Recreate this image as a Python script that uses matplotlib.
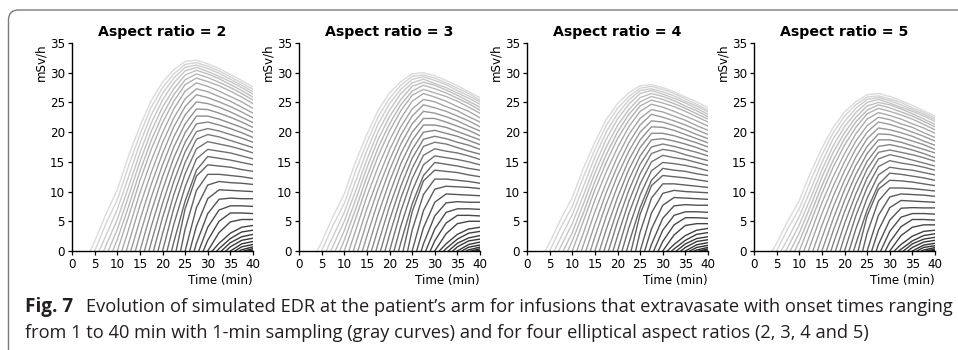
import numpy as np
import matplotlib.pyplot as plt
from matplotlib.patches import FancyBboxPatch

# sampling grid (min) and the time each curve leaves zero (onset + ~3 min)
sample_times = [5, 7.5, 10, 12.5, 15, 17.5, 20, 22.5, 25, 27.5, 30, 32.5, 35, 37.5, 40]
onset = list(range(1, 37))  # onsets 37-40 start after the 40 min window
rise_start = [4, 5, 6, 7, 8, 9, 10, 11, 12, 13, 14, 15, 16, 17, 18, 19, 20, 21,
              22, 23, 24, 25, 26, 27, 28, 29, 30, 31, 32, 33, 34, 35, 36, 37, 38, 39]
aspect_ratios = [2, 3, 4, 5]

# EDR (mSv/h), one row per onset, values at sample_times after rise_start
edr_ar2 = [
    [1.6, 6.2, 10.3, 16.0, 21.0, 25.3, 28.4, 30.5, 31.9, 32.1, 31.5, 30.7, 29.7, 28.7, 27.6],
    [4.6, 8.6, 14.3, 19.6, 24.2, 27.5, 29.8, 31.4, 31.7, 31.1, 30.3, 29.3, 28.3, 27.2],
    [2.6, 7.0, 12.5, 18.1, 22.9, 26.5, 29.1, 30.9, 31.3, 30.7, 29.9, 28.9, 27.9, 26.8],
    [0.9, 5.3, 10.8, 16.5, 21.5, 25.4, 28.3, 30.3, 30.9, 30.2, 29.4, 28.5, 27.5, 26.4],
    [3.6, 9.2, 15.0, 20.1, 24.2, 27.3, 29.6, 30.4, 29.8, 29.0, 28.0, 27.0, 25.9],
    [1.9, 7.5, 13.4, 18.6, 22.9, 26.3, 28.8, 29.8, 29.2, 28.4, 27.5, 26.5, 25.4],
    [5.8, 11.8, 17.1, 21.6, 25.2, 28.0, 29.1, 28.5, 27.8, 26.9, 25.9, 24.8],
    [3.6, 9.8, 15.2, 19.9, 23.9, 26.9, 28.3, 27.7, 26.9, 26.0, 25.1, 24.0],
    [1.3, 7.6, 13.2, 18.2, 22.4, 25.6, 27.3, 26.8, 26.0, 25.2, 24.2, 23.2],
    [5.2, 11.2, 16.4, 20.9, 24.3, 26.3, 25.8, 25.1, 24.3, 23.4, 22.4],
    [2.7, 9.0, 14.5, 19.2, 22.9, 25.1, 24.8, 24.2, 23.4, 22.5, 21.6],
    [6.6, 12.5, 17.5, 21.4, 23.9, 23.8, 23.2, 22.5, 21.7, 20.8],
    [4.1, 10.3, 15.7, 19.9, 22.7, 22.7, 22.2, 21.5, 20.8, 20.0],
    [1.4, 8.0, 13.7, 18.3, 21.4, 21.7, 21.2, 20.6, 19.9, 19.1],
    [5.6, 11.7, 16.7, 20.1, 20.6, 20.2, 19.6, 19.0, 18.3],
    [2.9, 9.5, 14.9, 18.8, 19.6, 19.2, 18.6, 18.0, 17.4],
    [7.2, 13.0, 17.2, 18.4, 18.0, 17.6, 17.1, 16.5],
    [4.5, 10.8, 15.5, 17.1, 16.8, 16.5, 16.0, 15.5],
    [1.5, 8.4, 13.6, 15.9, 15.6, 15.3, 14.9, 14.5],
    [7.1, 12.6, 14.5, 14.3, 14.1, 13.7, 13.4],
    [3.7, 10.2, 12.9, 12.9, 12.7, 12.5, 12.2],
    [7.3, 11.1, 11.7, 11.5, 11.4, 11.2],
    [4.2, 8.8, 10.3, 10.2, 10.1, 10.0],
    [1.3, 6.3, 8.7, 8.9, 8.8, 8.8],
    [4.0, 6.9, 7.6, 7.6, 7.5],
    [1.8, 5.0, 6.4, 6.4, 6.3],
    [3.1, 4.9, 5.3, 5.3],
    [1.3, 3.0, 4.0, 4.3],
    [0.4, 2.1, 3.2, 3.5],
    [1.4, 2.4, 2.8],
    [0.7, 1.8, 2.15],
    [1.2, 1.6],
    [0.7, 1.1],
    [0.2, 0.7],
    [0.4],
    [0.15],
]

edr_ar3 = [
    [1.5, 5.8, 9.6, 15.0, 19.6, 23.7, 26.6, 28.5, 29.8, 30.0, 29.5, 28.7, 27.8, 26.8, 25.8],
    [4.3, 8.0, 13.4, 18.3, 22.6, 25.7, 27.9, 29.4, 29.6, 29.1, 28.3, 27.4, 26.5, 25.4],
    [2.4, 6.5, 11.7, 16.9, 21.4, 24.8, 27.2, 28.9, 29.3, 28.7, 28.0, 27.0, 26.1, 25.1],
    [0.8, 5.0, 10.1, 15.4, 20.1, 23.7, 26.5, 28.3, 28.9, 28.2, 27.5, 26.6, 25.7, 24.7],
    [3.4, 8.6, 14.0, 18.8, 22.6, 25.5, 27.7, 28.4, 27.9, 27.1, 26.2, 25.2, 24.2],
    [1.8, 7.0, 12.5, 17.4, 21.4, 24.6, 26.9, 27.9, 27.3, 26.6, 25.7, 24.8, 23.7],
    [5.4, 11.0, 16.0, 20.2, 23.6, 26.2, 27.2, 26.6, 26.0, 25.2, 24.2, 23.2],
    [3.4, 9.2, 14.2, 18.6, 22.3, 25.2, 26.5, 25.9, 25.2, 24.3, 23.5, 22.4],
    [1.2, 7.1, 12.3, 17.0, 20.9, 23.9, 25.5, 25.1, 24.3, 23.6, 22.6, 21.7],
    [4.9, 10.5, 15.3, 19.5, 22.7, 24.6, 24.1, 23.5, 22.7, 21.9, 20.9],
    [2.5, 8.4, 13.6, 18.0, 21.4, 23.5, 23.2, 22.6, 21.9, 21.0, 20.2],
    [6.2, 11.7, 16.4, 20.0, 22.3, 22.3, 21.7, 21.0, 20.3, 19.4],
    [3.8, 9.6, 14.7, 18.6, 21.2, 21.2, 20.8, 20.1, 19.4, 18.7],
    [1.3, 7.5, 12.8, 17.1, 20.0, 20.3, 19.8, 19.3, 18.6, 17.9],
    [5.2, 10.9, 15.6, 18.8, 19.3, 18.9, 18.3, 17.8, 17.1],
    [2.7, 8.9, 13.9, 17.6, 18.3, 18.0, 17.4, 16.8, 16.3],
    [6.7, 12.2, 16.1, 17.2, 16.8, 16.5, 16.0, 15.4],
    [4.2, 10.1, 14.5, 16.0, 15.7, 15.4, 15.0, 14.5],
    [1.4, 7.9, 12.7, 14.9, 14.6, 14.3, 13.9, 13.6],
    [6.6, 11.8, 13.6, 13.4, 13.2, 12.8, 12.5],
    [3.5, 9.5, 12.1, 12.1, 11.9, 11.7, 11.4],
    [6.8, 10.4, 10.9, 10.8, 10.7, 10.5],
    [3.9, 8.2, 9.6, 9.5, 9.4, 9.3],
    [1.2, 5.9, 8.1, 8.3, 8.2, 8.2],
    [3.7, 6.5, 7.1, 7.1, 7.0],
    [1.7, 4.7, 6.0, 6.0, 5.9],
    [2.9, 4.6, 5.0, 5.0],
    [1.2, 2.8, 3.7, 4.0],
    [0.4, 2.0, 3.0, 3.3],
    [1.3, 2.2, 2.6],
    [0.7, 1.7, 2.0],
    [1.1, 1.5],
    [0.65, 1.0],
    [0.2, 0.65],
    [0.37],
    [0.14],
]

edr_ar4 = [
    [1.4, 5.4, 9.0, 14.0, 18.3, 22.1, 24.8, 26.6, 27.8, 28.0, 27.5, 26.8, 25.9, 25.1, 24.1],
    [4.0, 7.5, 12.5, 17.1, 21.1, 24.0, 26.0, 27.4, 27.7, 27.2, 26.5, 25.6, 24.7, 23.7],
    [2.3, 6.1, 10.9, 15.8, 20.0, 23.1, 25.4, 27.0, 27.3, 26.8, 26.1, 25.2, 24.4, 23.4],
    [0.8, 4.6, 9.4, 14.4, 18.8, 22.2, 24.7, 26.5, 27.0, 26.4, 25.7, 24.9, 24.0, 23.0],
    [3.1, 8.0, 13.1, 17.5, 21.1, 23.8, 25.8, 26.5, 26.0, 25.3, 24.4, 23.6, 22.6],
    [1.7, 6.5, 11.7, 16.2, 20.0, 23.0, 25.1, 26.0, 25.5, 24.8, 24.0, 23.1, 22.2],
    [5.1, 10.3, 14.9, 18.9, 22.0, 24.4, 25.4, 24.9, 24.3, 23.5, 22.6, 21.7],
    [3.1, 8.6, 13.3, 17.4, 20.9, 23.5, 24.7, 24.2, 23.5, 22.7, 21.9, 21.0],
    [1.1, 6.6, 11.5, 15.9, 19.6, 22.3, 23.8, 23.4, 22.7, 22.0, 21.1, 20.3],
    [4.5, 9.8, 14.3, 18.2, 21.2, 23.0, 22.5, 21.9, 21.2, 20.4, 19.6],
    [2.4, 7.9, 12.7, 16.8, 20.0, 21.9, 21.7, 21.1, 20.4, 19.6, 18.9],
    [5.8, 10.9, 15.3, 18.7, 20.9, 20.8, 20.3, 19.6, 18.9, 18.2],
    [3.6, 9.0, 13.7, 17.4, 19.8, 19.8, 19.4, 18.8, 18.2, 17.5],
    [1.2, 7.0, 12.0, 16.0, 18.7, 18.9, 18.5, 18.0, 17.4, 16.7],
    [4.9, 10.2, 14.6, 17.5, 18.0, 17.6, 17.1, 16.6, 16.0],
    [2.5, 8.3, 13.0, 16.4, 17.1, 16.8, 16.2, 15.7, 15.2],
    [6.3, 11.3, 15.0, 16.1, 15.7, 15.4, 14.9, 14.4],
    [3.9, 9.4, 13.5, 14.9, 14.7, 14.4, 14.0, 13.5],
    [1.3, 7.3, 11.9, 13.9, 13.6, 13.4, 13.0, 12.7],
    [6.2, 11.0, 12.7, 12.5, 12.3, 12.0, 11.7],
    [3.2, 8.9, 11.3, 11.3, 11.1, 10.9, 10.7],
    [6.4, 9.7, 10.2, 10.0, 9.9, 9.8],
    [3.7, 7.7, 9.0, 8.9, 8.8, 8.7],
    [1.1, 5.5, 7.6, 7.8, 7.7, 7.7],
    [3.5, 6.0, 6.6, 6.6, 6.5],
    [1.6, 4.4, 5.6, 5.6, 5.5],
    [2.7, 4.3, 4.6, 4.6],
    [1.1, 2.6, 3.5, 3.8],
    [0.35, 1.8, 2.8, 3.1],
    [1.2, 2.1, 2.4],
    [0.6, 1.6, 1.9],
    [1.05, 1.4],
    [0.6, 0.95],
    [0.17, 0.6],
    [0.35],
    [0.13],
]

edr_ar5 = [
    [1.3, 5.1, 8.5, 13.2, 17.3, 20.8, 23.4, 25.1, 26.3, 26.5, 26.0, 25.3, 24.5, 23.6, 22.7],
    [3.8, 7.1, 11.8, 16.2, 19.9, 22.7, 24.6, 25.9, 26.1, 25.6, 25.0, 24.1, 23.3, 22.4],
    [2.1, 5.8, 10.3, 14.9, 18.9, 21.8, 24.0, 25.5, 25.8, 25.3, 24.6, 23.8, 23.0, 22.1],
    [0.7, 4.4, 8.9, 13.6, 17.7, 20.9, 23.3, 25.0, 25.5, 24.9, 24.2, 23.5, 22.7, 21.8],
    [3.0, 7.6, 12.4, 16.6, 19.9, 22.5, 24.4, 25.0, 24.6, 23.9, 23.1, 22.2, 21.3],
    [1.6, 6.2, 11.0, 15.3, 18.9, 21.7, 23.7, 24.6, 24.1, 23.4, 22.7, 21.8, 20.9],
    [4.8, 9.7, 14.1, 17.8, 20.8, 23.1, 24.0, 23.5, 22.9, 22.2, 21.3, 20.4],
    [3.0, 8.1, 12.5, 16.4, 19.7, 22.2, 23.3, 22.8, 22.2, 21.4, 20.7, 19.8],
    [1.1, 6.3, 10.9, 15.0, 18.5, 21.1, 22.5, 22.1, 21.4, 20.8, 19.9, 19.1],
    [4.3, 9.2, 13.5, 17.2, 20.0, 21.7, 21.3, 20.7, 20.0, 19.3, 18.5],
    [2.2, 7.4, 11.9, 15.8, 18.9, 20.7, 20.4, 19.9, 19.3, 18.5, 17.8],
    [5.4, 10.3, 14.4, 17.6, 19.7, 19.6, 19.1, 18.5, 17.9, 17.1],
    [3.4, 8.5, 12.9, 16.4, 18.7, 18.7, 18.3, 17.7, 17.1, 16.5],
    [1.2, 6.6, 11.3, 15.1, 17.6, 17.9, 17.5, 17.0, 16.4, 15.7],
    [4.6, 9.6, 13.8, 16.6, 17.0, 16.6, 16.2, 15.7, 15.1],
    [2.4, 7.8, 12.3, 15.5, 16.2, 15.8, 15.3, 14.8, 14.3],
    [5.9, 10.7, 14.2, 15.2, 14.8, 14.5, 14.1, 13.6],
    [3.7, 8.9, 12.8, 14.1, 13.8, 13.6, 13.2, 12.8],
    [1.2, 6.9, 11.2, 13.1, 12.9, 12.6, 12.3, 11.9],
    [5.9, 10.4, 11.9, 11.8, 11.6, 11.3, 11.0],
    [3.0, 8.4, 10.6, 10.6, 10.5, 10.3, 10.1],
    [6.0, 9.1, 9.6, 9.5, 9.4, 9.2],
    [3.5, 7.3, 8.5, 8.4, 8.3, 8.2],
    [1.1, 5.2, 7.2, 7.3, 7.25, 7.25],
    [3.3, 5.7, 6.3, 6.3, 6.2],
    [1.5, 4.1, 5.3, 5.3, 5.2],
    [2.6, 4.0, 4.4, 4.4],
    [1.1, 2.5, 3.3, 3.5],
    [0.3, 1.7, 2.6, 2.9],
    [1.2, 2.0, 2.3],
    [0.6, 1.5, 1.8],
    [1.0, 1.3],
    [0.6, 0.9],
    [0.16, 0.58],
    [0.33],
    [0.12],
]

panels = [edr_ar2, edr_ar3, edr_ar4, edr_ar5]

caption_bold = 'Fig. 7'
caption_line1 = ('Evolution of simulated EDR at the patient\u2019s arm for infusions that '
                 'extravasate with onset times ranging')
caption_line2 = ('from 1 to 40 min with 1-min sampling (gray curves) and for four elliptical '
                 'aspect ratios (2, 3, 4 and 5)')

W, H = 958, 350
fig = plt.figure(figsize=(W / 100, H / 100), dpi=100)

# very light gray for the first onsets, getting dark quickly
u = np.linspace(0, 1, 40)
grays = 0.15 + 0.71 * (1 - u) ** 1.6

lefts = [72, 299, 527, 754]
for i, (ar, curves) in enumerate(zip(aspect_ratios, panels)):
    ax = fig.add_axes([lefts[i] / W, (H - 251) / H, 181 / W, 208 / H])
    for k, (s, vals) in enumerate(zip(rise_start, curves)):
        tt = [t for t in sample_times if t > s]
        x = [s] + tt[:len(vals)]
        y = [0] + list(vals)
        ax.plot(x, y, color=str(grays[k]), lw=1.0)

    ax.set_xlim(0, 40)
    ax.set_ylim(0, 35)
    ax.set_xticks(range(0, 41, 5))
    ax.set_yticks(range(0, 36, 5))
    ax.spines['top'].set_visible(False)
    ax.spines['right'].set_visible(False)
    for sp in ['left', 'bottom']:
        ax.spines[sp].set_linewidth(1.0)
        ax.spines[sp].set_zorder(3)
    ax.tick_params(labelsize=8.6, length=3, width=0.9, pad=2)
    ax.set_title(f'Aspect ratio = {ar}', fontsize=10.2, fontweight='bold', pad=5)
    ax.set_ylabel('mSv/h', fontsize=8.6, loc='top', labelpad=2)
    ax.set_xlabel('Time (min)', fontsize=8.6, loc='right', labelpad=2)

# frame round figure + caption
frame = FancyBboxPatch((0.085, -1.0), 10.0, 3.40 + 1.0,
                       boxstyle='round,pad=0,rounding_size=0.1',
                       transform=fig.dpi_scale_trans, fill=False,
                       edgecolor='#7a7a7a', lw=1.0)
fig.patches.append(frame)

cap_color = '#231f20'
t1 = fig.text(25 / W, 1 - 312 / H, caption_bold, fontsize=13.6, fontweight='bold',
              family='Open Sans', color=cap_color, va='baseline')
fig.canvas.draw()
bb = t1.get_window_extent(fig.canvas.get_renderer())
fig.text((bb.x1 + 13) / W, 1 - 312 / H, caption_line1, fontsize=13.15,
         family='Open Sans', color=cap_color, va='baseline')
fig.text(25 / W, 1 - 338 / H, caption_line2, fontsize=13.15,
         family='Open Sans', color=cap_color, va='baseline')

fig.savefig('out.png', dpi=100)
